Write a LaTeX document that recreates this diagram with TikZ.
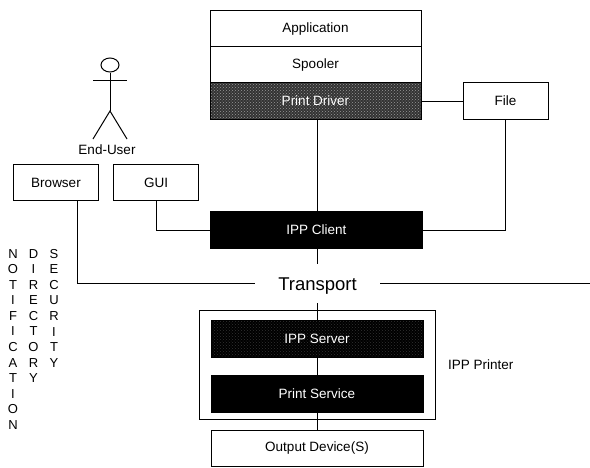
\documentclass[tikz,border=0pt]{standalone}
\usepackage{fontspec}
\setmainfont{Liberation Sans}
\usetikzlibrary{patterns,shapes.geometric}
\tikzset{
  x=1pt,y=-1pt,
  box/.style={draw=black,line width=1pt,fill=white,minimum width=#1,minimum height=36.5pt,inner sep=0pt,font=\fontsize{13.5}{15}\selectfont},
  box/.default=211pt,
  wide/.style={box=212pt},
  small/.style={box=85pt},
  solidblk/.style={wide,fill=black,text=white},
  speckle/.style={wide,draw=black,text=white,preaction={fill=#1},pattern=crosshatch dots,pattern color=black!40},
  speckledark/.style={wide,draw=black,text=white,preaction={fill=black},pattern=crosshatch dots,pattern color=black!80},
  conn/.style={draw=black,line width=1pt},
  lab/.style={inner sep=0pt,font=\fontsize{13.5}{15}\selectfont},
  vert/.style={inner sep=0pt,align=center,anchor=north,font=\fontsize{13}{15.55}\selectfont},
}
\begin{document}
\begin{tikzpicture}
\useasboundingbox (0,0) rectangle (590,467);
% IPP Printer enclosure
\node[draw=black,line width=1pt,minimum width=236pt,minimum height=109pt,inner sep=0pt] (printer) at (317,364.5) {};
% boxes
\node[box] (app) at (315.5,29) {Application};
\node[box] (spool) at (315.5,65) {Spooler};
\node[speckle=black!80,minimum width=211pt] (driver) at (315.5,101) {Print Driver};
\node[small] (file) at (505.5,101) {File};
\node[small] (browser) at (56,182.5) {Browser};
\node[small] (gui) at (156,182.5) {GUI};
\node[solidblk] (client) at (316.5,230) {IPP Client};
\node[speckledark] (server) at (317,339) {IPP Server};
\node[solidblk] (service) at (317,394) {Print Service};
\node[wide] (output) at (317,448.5) {Output Device(S)};
\node[inner sep=0pt,minimum width=125pt,minimum height=39pt,font=\fontsize{18.5}{20}\selectfont] (transport) at (317.5,283.5) {\raisebox{-7pt}[0pt][0pt]{Transport}\hspace{6pt}};
\node[lab,anchor=west] (ipplabel) at (448,365) {IPP Printer};
\node[lab] (enduser) at (107,150) {End-User};
% stick figure
\node[draw=black,line width=1pt,ellipse,minimum width=18pt,minimum height=14pt,inner sep=0pt] (head) at (110,65) {};
\coordinate (hip) at (110,111);
\coordinate (larm) at (93,80);
\coordinate (rarm) at (127,80);
\coordinate (lfoot) at (93,139);
\coordinate (rfoot) at (127,139);
\draw[conn] (head.south) -- (hip);
\draw[conn] (larm) -- (rarm);
\draw[conn] (lfoot) -- (hip) -- (rfoot);
% connectors
\draw[conn] (driver.east) -- (file.west);
\draw[conn] ([xshift=1.5pt]driver.south) -- ([xshift=0.5pt]client.north);
\draw[conn] (client.east) -| (file.south);
\draw[conn] (gui.south) |- (client.west);
\draw[conn] ([xshift=21pt]browser.south) |- (transport.west);
\draw[conn] (transport.east) -- (590,283.5);
\draw[conn] (client.south -| transport.south) -- (transport.north);
\draw[conn] (transport.south) -- (server.north -| transport.south);
\draw[conn] (server.south) -- (service.north);
\draw[conn] (service.south) -- (output.north);
% vertical words
\node[vert] (notif) at (13,249) {N\\O\\T\\I\\F\\I\\C\\A\\T\\I\\O\\N};
\node[vert] (direc) at (33.5,249) {D\\I\\R\\E\\C\\T\\O\\R\\Y};
\node[vert] (secur) at (54,249) {S\\E\\C\\U\\R\\I\\T\\Y};
\end{tikzpicture}
\end{document}
